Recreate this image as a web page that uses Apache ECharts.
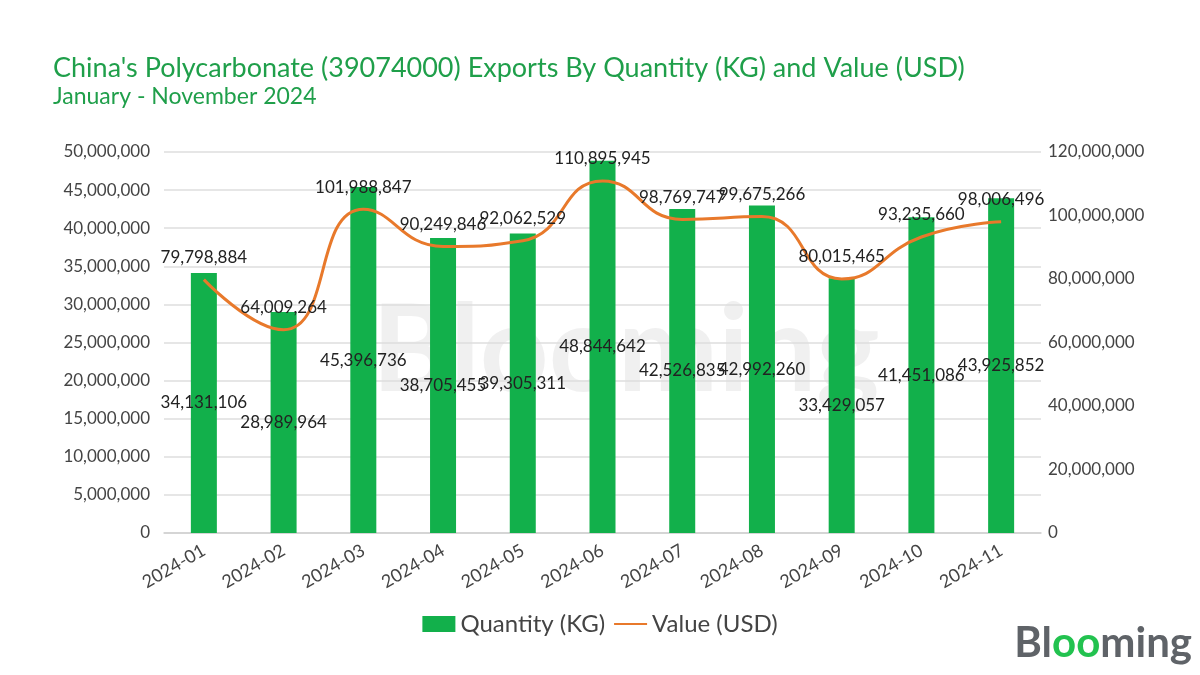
<!DOCTYPE html>
<html>
<head>
<meta charset="utf-8">
<script src="https://cdn.jsdelivr.net/npm/echarts@6/dist/echarts.min.js"></script>
<style>html,body{margin:0;padding:0;background:#fff}#c{width:1200px;height:675px}</style>
</head>
<body>
<div id="c"></div>
<script>
const categories = ['2024-01','2024-02','2024-03','2024-04','2024-05','2024-06','2024-07','2024-08','2024-09','2024-10','2024-11'];
const quantityKG = [34131106,28989964,45396736,38705455,39305311,48844642,42526835,42992260,33429057,41451086,43925852];
const valueUSD = [79798884,64009264,101988847,90249846,92062529,110895945,98769747,99675266,80015465,93235660,98006496];
const leftTicks = {min:0, max:50000000, interval:5000000};
const rightTicks = {min:0, max:120000000, interval:20000000};

const FONT = 'Lato';
const fmt = v => Number(v).toLocaleString('en-US');
const chart = echarts.init(document.getElementById('c'));
chart.setOption({
  backgroundColor:'#fff',
  textStyle:{fontFamily:FONT},
  title:[
    {text:"China's Polycarbonate (39074000) Exports By Quantity (KG) and Value (USD)", left:48, top:50,
     textStyle:{color:'#1f9f4a', fontSize:27, fontWeight:'normal', fontFamily:FONT}},
    {text:'January - November 2024', left:48, top:80,
     textStyle:{color:'#1f9f4a', fontSize:23, fontWeight:'normal', fontFamily:FONT}}
  ],
  legend:{bottom:34, left:'center', itemWidth:33, itemHeight:16, itemGap:8,
    textStyle:{fontSize:24, color:'#444', fontFamily:FONT},
    data:[{name:'Quantity (KG)', icon:'rect'},{name:'Value (USD)'}]},
  grid:{left:164, right:159, top:152, bottom:142, containLabel:false},
  xAxis:{type:'category', data:categories,
    axisLine:{lineStyle:{color:'#d0d0d0', width:1.5}}, axisTick:{show:false},
    axisLabel:{rotate:30, fontSize:18, color:'#444', margin:16, fontFamily:FONT}},
  yAxis:[
    {type:'value', min:leftTicks.min, max:leftTicks.max, interval:leftTicks.interval,
     axisLine:{show:false}, axisTick:{show:false},
     splitLine:{lineStyle:{color:'#dedede', width:1.5}},
     axisLabel:{formatter:fmt, fontSize:17, color:'#444', margin:14, fontFamily:FONT}},
    {type:'value', min:rightTicks.min, max:rightTicks.max, interval:rightTicks.interval,
     axisLine:{show:false}, axisTick:{show:false}, splitLine:{show:false},
     axisLabel:{formatter:fmt, fontSize:17, color:'#444', margin:7, fontFamily:FONT}}
  ],
  graphic:[
    {type:'text', left:372, top:292, z:0, silent:true,
     style:{text:'Blooming', fontSize:120, fontWeight:'bold', fill:'rgba(200,200,200,0.28)', fontFamily:FONT}},
    {type:'text', right:8, top:622, z:100,
     style:{rich:{g:{fontSize:42, fontWeight:'bold', fill:'#5f6368', fontFamily:FONT},
                  o:{fontSize:42, fontWeight:'bold', fill:'#22c24f', fontFamily:FONT}},
            text:'{g|Bl}{o|oo}{g|ming}'}}
  ],
  series:[
    {name:'Quantity (KG)', type:'bar', data:quantityKG, yAxisIndex:0, barWidth:26,
     itemStyle:{color:'#12b04b'}, z:2,
     label:{show:true, position:'inside', formatter:p=>fmt(p.value), fontSize:17, color:'#222', fontFamily:FONT}},
    {name:'Value (USD)', type:'line', data:valueUSD, yAxisIndex:1, smooth:0.5, showSymbol:true, symbol:'circle', symbolSize:1,
     lineStyle:{color:'#e8792b', width:3}, itemStyle:{color:'rgba(0,0,0,0)'}, z:3,
     label:{show:true, position:'top', distance:13, formatter:p=>fmt(p.value), fontSize:17, color:'#222', fontFamily:FONT}}
  ]
});
</script>
</body>
</html>
